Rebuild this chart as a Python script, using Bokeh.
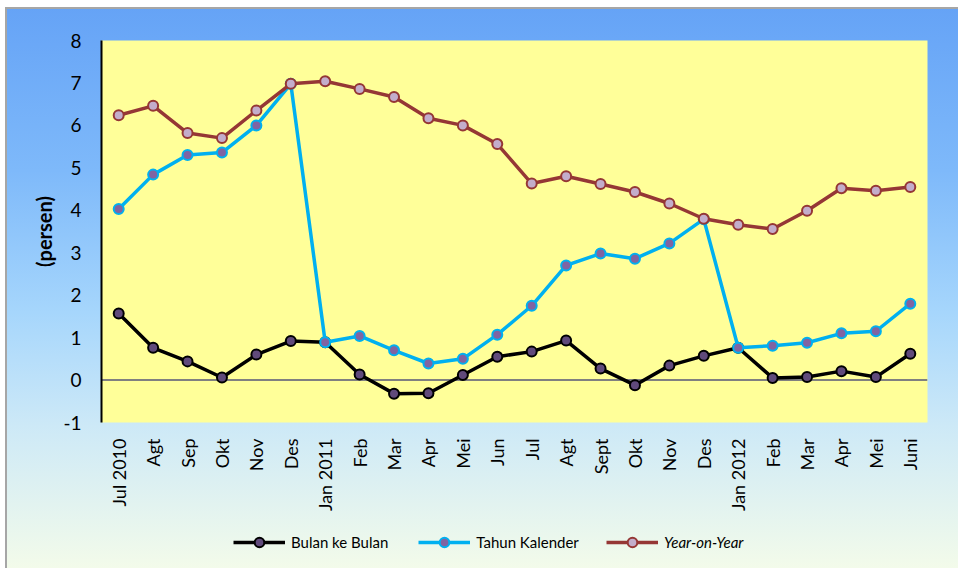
from bokeh.plotting import figure
from bokeh.models import Range1d, FixedTicker, Span, Legend, LegendItem
from bokeh.layouts import column
from bokeh.embed import file_html
from bokeh.resources import INLINE

months = ["Jul 2010", "Agt", "Sep", "Okt", "Nov", "Des", "Jan 2011", "Feb", "Mar",
          "Apr", "Mei", "Jun", "Jul", "Agt", "Sept", "Okt", "Nov", "Des",
          "Jan 2012", "Feb", "Mar", "Apr", "Mei", "Juni"]

bulan_ke_bulan = [1.57, 0.76, 0.44, 0.06, 0.60, 0.92, 0.89, 0.13, -0.32, -0.31, 0.12,
                  0.55, 0.67, 0.93, 0.27, -0.12, 0.34, 0.57, 0.76, 0.05, 0.07, 0.21,
                  0.07, 0.62]
tahun_kalender = [4.03, 4.84, 5.30, 5.36, 6.00, 6.98, 0.89, 1.04, 0.70, 0.39, 0.50,
                  1.07, 1.75, 2.70, 2.98, 2.86, 3.22, 3.79, 0.76, 0.81, 0.88, 1.10,
                  1.15, 1.80]
year_on_year = [6.24, 6.46, 5.82, 5.70, 6.35, 6.98, 7.04, 6.86, 6.67, 6.17, 6.00,
                5.56, 4.63, 4.80, 4.62, 4.43, 4.16, 3.80, 3.66, 3.56, 3.99, 4.52,
                4.46, 4.55]
y_ticks = [-1, 0, 1, 2, 3, 4, 5, 6, 7, 8]
series_names = ["Bulan ke Bulan", "Tahun Kalender", "Year-on-Year"]

x = list(range(len(months)))
FONT = "Lato"

STY = [dict(line="black", fill="#604A7B"),
       dict(line="#00B0F0", fill="#8064A2"),
       dict(line="#953735", fill="#C3ADCB")]
LW, MS, MLW = 3.5, 10, 2

p = figure(frame_width=826, frame_height=382, output_backend="svg",
           toolbar_location=None, x_range=Range1d(-0.5, len(months) - 0.5),
           y_range=Range1d(-1, 8), min_border_left=101, min_border_right=31,
           min_border_top=40, min_border_bottom=96)
p.border_fill_color = None
p.background_fill_color = "#FFFF99"
p.outline_line_color = None
p.xgrid.visible = False
p.ygrid.visible = False

zero = Span(location=0, dimension="width", line_color="#808080", line_width=2,
            level="underlay")
p.add_layout(zero)

for vals, st in zip([bulan_ke_bulan, tahun_kalender, year_on_year], STY):
    p.line(x, vals, line_color=st["line"], line_width=LW)
    p.scatter(x, vals, size=MS, fill_color=st["fill"], line_color=st["line"],
              line_width=MLW)

p.xaxis.ticker = FixedTicker(ticks=x)
p.xaxis.major_label_overrides = {i: m for i, m in enumerate(months)}
p.xaxis.major_label_orientation = 3.14159265 / 2
p.xaxis.axis_line_color = None
p.xaxis.major_tick_line_color = None
p.xaxis.minor_tick_line_color = None
p.xaxis.major_label_text_font = FONT
p.xaxis.major_label_text_font_size = "18px"
p.xaxis.major_label_text_color = "black"
p.xaxis.major_label_standoff = 10

p.yaxis.ticker = FixedTicker(ticks=y_ticks)
p.yaxis.major_label_overrides = {t: str(t) for t in y_ticks}
p.yaxis.axis_line_color = "black"
p.yaxis.axis_line_width = 2
p.yaxis.major_tick_line_color = None
p.yaxis.minor_tick_line_color = None
p.yaxis.major_label_text_font = FONT
p.yaxis.major_label_text_font_size = "19px"
p.yaxis.major_label_text_color = "black"
p.yaxis.major_label_standoff = 14
p.yaxis.axis_label = "(persen)"
p.yaxis.axis_label_text_font = FONT
p.yaxis.axis_label_text_font_size = "20px"
p.yaxis.axis_label_text_font_style = "bold"
p.yaxis.axis_label_text_color = "black"
p.yaxis.axis_label_standoff = 4

# legend strip below the chart (its frame is aligned with the chart frame)
lg = figure(width=958, height=50, output_backend="svg", toolbar_location=None,
            x_axis_type=None, y_axis_type=None, x_range=Range1d(0, 1),
            y_range=Range1d(0, 1), min_border=0)
lg.border_fill_color = None
lg.background_fill_color = None
lg.outline_line_color = None
lg.xgrid.visible = False
lg.ygrid.visible = False

items = []
for name, st in zip(series_names, STY):
    rl = lg.line([-5, -4], [-5, -4], line_color=st["line"], line_width=LW)
    rs = lg.scatter([-5], [-5], size=MS, fill_color=st["fill"], line_color=st["line"],
                    line_width=MLW)
    items.append(LegendItem(label=name, renderers=[rl, rs]))

common = dict(orientation="horizontal", glyph_width=52, glyph_height=24,
              label_standoff=6, spacing=30, padding=0, margin=0,
              border_line_color=None, background_fill_alpha=0,
              label_text_font=FONT, label_text_font_size="15px",
              label_text_color="black")
lg.add_layout(Legend(items=items[:2], location=(132, 14), **common))
lg.add_layout(Legend(items=items[2:], location=(505, 14),
                     label_text_font_style="italic", **common))

layout = column(p, lg, spacing=0)
layout.styles = {
    "background": ("linear-gradient(#FFFFFF, #FFFFFF) 0 0 / 100% 7px no-repeat, "
                   "linear-gradient(#FFFFFF, #FFFFFF) 0 0 / 5px 100% no-repeat, "
                   "linear-gradient(#A6A6A6, #A6A6A6) 5px 7px / 100% 2px no-repeat, "
                   "linear-gradient(#A6A6A6, #A6A6A6) 5px 7px / 2px 100% no-repeat, "
                   "linear-gradient(to bottom, #64A2F6 0%, #7EB9FA 30%, "
                   "#A6D6FC 55%, #CDE9F7 75%, #F3FBEA 100%)")}

open("out.html", "w").write(file_html(layout, INLINE))
